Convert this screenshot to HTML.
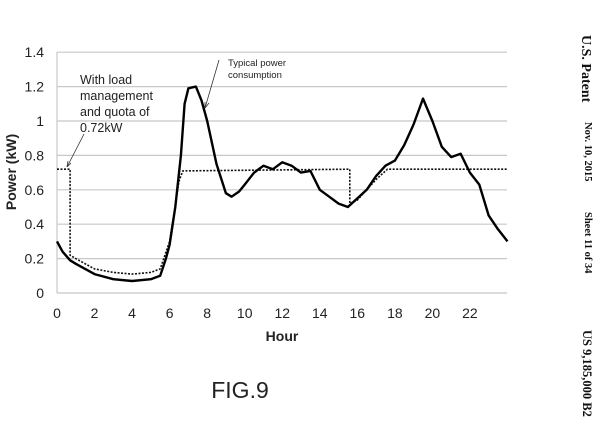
<!DOCTYPE html>
<html><head><meta charset="utf-8"><style>
body{margin:0;background:#fff;}
.sa{font-family:"Liberation Sans",sans-serif;}
.se{font-family:"Liberation Serif",serif;}
</style></head><body>
<svg id="s" width="600" height="422" xmlns="http://www.w3.org/2000/svg">
<g stroke="#c8c8c8" stroke-width="1.2" id="grid"></g>
<g class="sa" font-size="14" fill="#222" text-anchor="end" id="yl"></g>
<g class="sa" font-size="14" fill="#222" text-anchor="middle" id="xl"></g>
<text class="sa" x="16" y="172" font-size="14" font-weight="bold" fill="#222" text-anchor="middle" transform="rotate(-90 16 172)">Power (kW)</text>
<text class="sa" x="282" y="341" font-size="14" font-weight="bold" fill="#222" text-anchor="middle">Hour</text>
<text class="sa" x="240" y="398" font-size="23" fill="#222" text-anchor="middle">FIG.9</text>
<polyline id="dash" fill="none" stroke="#111" stroke-width="1.6" stroke-dasharray="2,1.5"/>
<polyline id="solid" fill="none" stroke="#000" stroke-width="2.4" stroke-linejoin="round"/>
<g class="sa" font-size="12.5" fill="#222">
<text x="80" y="84">With load</text>
<text x="80" y="100">management</text>
<text x="80" y="116">and quota of</text>
<text x="80" y="132">0.72kW</text>
</g>
<g class="sa" font-size="9.5" fill="#222">
<text x="228" y="66">Typical power</text>
<text x="228" y="78">consumption</text>
</g>
<g stroke="#333" stroke-width="0.8" fill="none">
<line x1="84" y1="134" x2="67" y2="167"/><path d="M67 167 l1 -6 M67 167 l4 -4"/>
<line x1="219" y1="60" x2="205" y2="108"/><path d="M205 108 l0 -6 M205 108 l4 -5"/>
</g>
<g class="se" fill="#111">
<text x="582" y="35" font-size="14" font-weight="bold" transform="rotate(90 582 35)">U.S. Patent</text>
<text x="585" y="122" font-size="10.5" font-weight="bold" transform="rotate(90 585 122)">Nov. 10, 2015</text>
<text x="585" y="212" font-size="10.5" font-weight="bold" transform="rotate(90 585 212)">Sheet 11 of 34</text>
<text x="583" y="330" font-size="12.5" font-weight="bold" transform="rotate(90 583 330)">US 9,185,000 B2</text>
</g>
</svg>
<script>
var X=h=>57+18.77*h, Y=v=>293-172*v;
var g=document.getElementById('grid'),yl=document.getElementById('yl'),xl=document.getElementById('xl'),ns='http://www.w3.org/2000/svg';
for(var i=0;i<=7;i++){var y=Y(i*0.2);var l=document.createElementNS(ns,'line');l.setAttribute('x1',57);l.setAttribute('x2',507);l.setAttribute('y1',y);l.setAttribute('y2',y);g.appendChild(l);
var t=document.createElementNS(ns,'text');t.setAttribute('x',44);t.setAttribute('y',y+5);t.textContent=[0,0.2,0.4,0.6,0.8,1,1.2,1.4][i];yl.appendChild(t);}
var a=document.createElementNS(ns,'line');a.setAttribute('x1',57);a.setAttribute('x2',57);a.setAttribute('y1',52);a.setAttribute('y2',293);g.appendChild(a);
for(var h=0;h<=22;h+=2){var t=document.createElementNS(ns,'text');t.setAttribute('x',X(h));t.setAttribute('y',318);t.textContent=h;xl.appendChild(t);}
var S=[[0,.30],[.3,.24],[.7,.19],[1,.17],[2,.11],[3,.08],[4,.07],[5,.08],[5.5,.10],[5.8,.2],[6,.28],[6.3,.5],[6.6,.8],[6.8,1.1],[7,1.19],[7.4,1.2],[7.7,1.12],[8,1.0],[8.5,.75],[9,.58],[9.3,.56],[9.7,.59],[10,.63],[10.5,.7],[11,.74],[11.5,.72],[12,.76],[12.5,.74],[13,.70],[13.5,.71],[14,.6],[14.5,.56],[15,.52],[15.5,.5],[16,.55],[16.5,.6],[17,.68],[17.5,.74],[18,.77],[18.5,.86],[19,.98],[19.5,1.13],[20,1.0],[20.5,.85],[21,.79],[21.5,.81],[22,.7],[22.5,.63],[23,.45],[23.5,.37],[24,.3]];
var D=[[0,.72],[.7,.72],[.7,.22],[1,.2],[2,.14],[3,.12],[4,.11],[5,.12],[5.5,.14],[6,.3],[6.5,.65],[6.7,.71],[15.6,.72],[15.6,.52],[16,.54],[17,.66],[17.6,.72],[24,.72]];
function pts(a){return a.map(p=>X(p[0]).toFixed(1)+','+Y(p[1]).toFixed(1)).join(' ');}
document.getElementById('solid').setAttribute('points',pts(S));
document.getElementById('dash').setAttribute('points',pts(D));
</script>
</body></html>
